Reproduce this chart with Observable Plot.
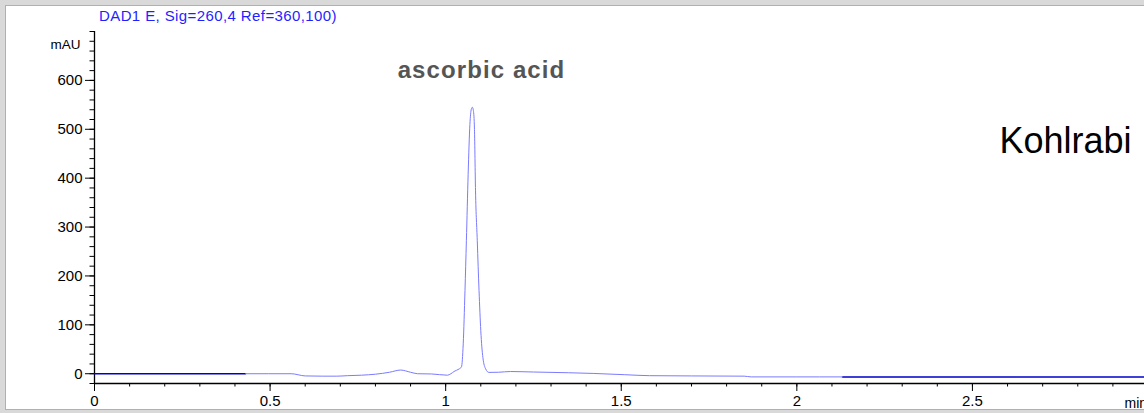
<!DOCTYPE html>
<html>
<head>
<meta charset="utf-8">
<script src="https://cdn.jsdelivr.net/npm/d3@7"></script>
<script src="https://cdn.jsdelivr.net/npm/@observablehq/plot@0.6"></script>
<style>
  html, body { margin: 0; padding: 0; width: 1144px; height: 413px; overflow: hidden; background: #d9d9d9;
    font-family: "Liberation Sans", Arial, Helvetica, sans-serif; }
  #panel { position: absolute; left: 5px; top: 5px; width: 1139px; height: 403px; background: #fff;
    border-left: 1px solid #b0b0b0; border-top: 1px solid #b0b0b0; border-bottom: 1px solid #b0b0b0; overflow: hidden; }
  #title { position: absolute; left: 93px; top: 2px; font-size: 15px; line-height: 15px; color: #1f1fff;
    letter-spacing: 0.4px; white-space: nowrap; z-index: 2; }
  #chart { position: absolute; left: 0; top: 0; }
</style>
</head>
<body>
<div id="panel">
  <div id="title"></div>
  <div id="chart"></div>
</div>
<script>
// ---- chart texts ----
const signalTitle = "DAD1 E, Sig=260,4 Ref=360,100)";
const yUnit = "mAU";
const xUnit = "min";
const peakName = "ascorbic acid";
const sampleName = "Kohlrabi";

// ---- detector trace (retention time in min, absorbance in mAU) ----
const traceTime = [0.43, 0.56, 0.60, 0.65, 0.69, 0.72, 0.76, 0.80, 0.84, 0.872, 0.90, 0.92, 0.96, 1.005,
  1.015, 1.024, 1.038, 1.045, 1.050, 1.055, 1.059, 1.064, 1.069, 1.073, 1.076, 1.079, 1.082, 1.085,
  1.090, 1.095, 1.100, 1.106, 1.114, 1.123, 1.15, 1.185, 1.25, 1.35, 1.42, 1.51, 1.58, 1.70, 1.85,
  1.87, 2.00, 2.13];
const traceMAU = [0, 0, -4.5, -5, -5, -4, -3, -1, 3, 7.5, 3, 0, -0.5, -3,
  0, 4.7, 9.6, 14, 61, 170, 272, 408, 510, 541, 545, 538, 500, 374,
  272, 170, 88, 33, 9.6, 2.7, 3, 4.5, 3.5, 2, 0.6, -2, -4, -4.5, -5,
  -6.5, -6.5, -6.5];

// ---- baseline segments drawn in dark blue ----
const leadTime = [0, 0.43];
const leadMAU = [0, 0];
const tailTime = [2.13, 2.99];
const tailMAU = [-6.5, -6.5];

// ---- axes ----
const xDomain = [0, 2.99];
const yDomain = [-20, 700];
const xMajorTicks = [0, 0.5, 1, 1.5, 2, 2.5];
const xTickLabels = ["0", "0.5", "1", "1.5", "2", "2.5"];
const xMinorTicks = [0, 0.1, 0.2, 0.3, 0.4, 0.5, 0.6, 0.7, 0.8, 0.9, 1, 1.1, 1.2, 1.3, 1.4, 1.5,
  1.6, 1.7, 1.8, 1.9, 2, 2.1, 2.2, 2.3, 2.4, 2.5, 2.6, 2.7, 2.8, 2.9];
const yMajorTicks = [0, 100, 200, 300, 400, 500, 600];
const yTickLabels = ["0", "100", "200", "300", "400", "500", "600"];
const yMinorTicks = [-20, 0, 20, 40, 60, 80, 100, 120, 140, 160, 180, 200, 220, 240, 260, 280, 300,
  320, 340, 360, 380, 400, 420, 440, 460, 480, 500, 520, 540, 560, 580, 600, 620, 640, 660, 680, 700];

// ---- annotation anchors (data coordinates) ----
const peakLabelAt = [1.102, 621];
const sampleLabelAt = [2.577, 476];
const yUnitAt = [0, 673];
const xUnitAt = [2.933, -20];

document.getElementById("title").textContent = signalTitle;

const font = '"Liberation Sans", Arial, Helvetica, sans-serif';
const chart = Plot.plot({
  width: 1138,
  height: 403,
  marginLeft: 88,
  marginRight: 0,
  marginTop: 25,
  marginBottom: 26,
  style: { fontFamily: font, background: "transparent", color: "#000" },
  x: { domain: xDomain },
  y: { domain: yDomain },
  marks: [
    Plot.axisY({ ticks: yMinorTicks, tickSize: 4.5, text: null, label: null }),
    Plot.axisY({ ticks: yMajorTicks, tickSize: 9, tickPadding: 3, fontSize: 15, label: null,
      tickFormat: d => yTickLabels[yMajorTicks.indexOf(d)] }),
    Plot.axisX({ ticks: xMinorTicks, tickSize: 3.5, text: null, label: null }),
    Plot.axisX({ ticks: xMajorTicks, tickSize: 8, tickPadding: 4, fontSize: 15, label: null,
      tickFormat: d => xTickLabels[xMajorTicks.indexOf(d)] }),
    Plot.ruleX([xDomain[0]], { y1: yDomain[0], y2: yDomain[1], stroke: "#000", strokeWidth: 1.3 }),
    Plot.ruleY([yDomain[0]], { x1: xDomain[0], x2: xDomain[1], stroke: "#000", strokeWidth: 1.3 }),
    Plot.line(leadMAU, { x: leadTime, y: leadMAU, stroke: "#0000cc", strokeWidth: 1.5 }),
    Plot.line(tailMAU, { x: tailTime, y: tailMAU, stroke: "#0000cc", strokeWidth: 1.5 }),
    Plot.line(traceMAU, { x: traceTime, y: traceMAU, stroke: "#7b7bff", strokeWidth: 1, curve: "monotone-x" }),
    Plot.text([peakName], { x: [peakLabelAt[0]], y: [peakLabelAt[1]], text: d => d, fontSize: 24,
      fontWeight: "bold", fill: "#555555", textAnchor: "middle" }),
    Plot.text([sampleName], { x: [sampleLabelAt[0]], y: [sampleLabelAt[1]], text: d => d, fontSize: 36,
      fill: "#000", textAnchor: "start" }),
    Plot.text([yUnit], { x: [yUnitAt[0]], y: [yUnitAt[1]], text: d => d, fontSize: 13.5,
      fill: "#000", textAnchor: "end", dx: -14 }),
    Plot.text([xUnit], { x: [xUnitAt[0]], y: [xUnitAt[1]], text: d => d, fontSize: 14,
      fill: "#000", textAnchor: "start", dy: 20 })
  ]
});
d3.select(chart).selectAll("text").filter(function () { return this.textContent === peakName; })
  .attr("letter-spacing", "1.1px");
d3.select(chart).selectAll('g[aria-label="y-axis tick label"], g[aria-label="x-axis tick label"]')
  .attr("font-size", 15).selectAll("text").attr("font-size", 15);
document.getElementById("chart").appendChild(chart);
</script>
</body>
</html>
